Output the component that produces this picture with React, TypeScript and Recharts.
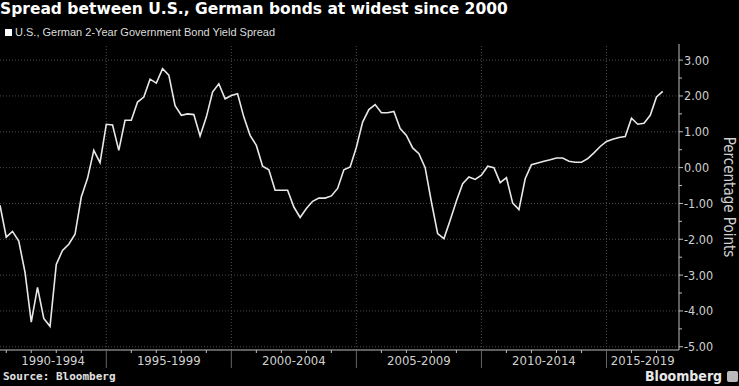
import React from "react";
import { LineChart, Line, XAxis, YAxis, ReferenceLine } from "recharts";

// quarterly observations, first one in Q4 1990
const startYear = 1990.75;
const spreadValues = [
  -1.05, -1.94, -1.78, -2.05, -2.92, -4.31, -3.34, -4.21, -4.43, -2.7,
  -2.31, -2.14, -1.86, -0.82, -0.3, 0.48, 0.14, 1.21, 1.19, 0.48,
  1.32, 1.32, 1.83, 1.97, 2.47, 2.36, 2.76, 2.58, 1.73, 1.46,
  1.5, 1.48, 0.88, 1.41, 2.11, 2.34, 1.92, 2.01, 2.06, 1.41,
  0.9, 0.62, 0.04, -0.06, -0.63, -0.63, -0.63, -1.1, -1.39, -1.14,
  -0.94, -0.85, -0.85, -0.79, -0.58, -0.06, 0.02, 0.57, 1.27, 1.62,
  1.76, 1.53, 1.53, 1.57, 1.09, 0.9, 0.55, 0.39, 0.0, -0.96,
  -1.84, -1.98, -1.47, -0.93, -0.45, -0.26, -0.33, -0.21, 0.04, 0.0,
  -0.42, -0.28, -0.99, -1.17, -0.31, 0.08, 0.13, 0.18, 0.22, 0.27,
  0.27, 0.18, 0.15, 0.15, 0.25, 0.41, 0.59, 0.73, 0.79, 0.84,
  0.87, 1.38, 1.21, 1.24, 1.46, 1.97, 2.13,
];

const groupLabels = ["1990-1994", "1995-1999", "2000-2004", "2005-2009", "2010-2014", "2015-2019"];
const groupStarts = [1990, 1995, 2000, 2005, 2010, 2015];
const yLabels = [3, 2, 1, 0, -1, -2, -3, -4, -5];

const xMin = 1990.75;
const xMax = 2017.9;
const yMin = -5.09;
const yMax = 3.45;

const data = spreadValues.map((v, i) => ({ t: startYear + i * 0.25, spread: v }));

// label sits in the middle of the visible part of each 5-year block
const labelPos = groupStarts.map((s) => (Math.max(s, xMin) + Math.min(s + 5, xMax)) / 2);
const yearTicks: number[] = [];
for (let y = Math.ceil(xMin); y <= Math.floor(xMax); y++) yearTicks.push(y);
const halfTicks: number[] = [];
for (let v = -5; v <= 3; v += 0.5) halfTicks.push(v);

const FONT = "'DejaVu Sans Condensed', 'DejaVu Sans', sans-serif";
const GRID = "#4a4a4a";
const AXIS = "#bdbdbd";

const XTick = (props: any) => {
  const { x, y, payload } = props;
  const idx = labelPos.indexOf(payload.value);
  if (idx >= 0) {
    return (
      <text x={x} y={y + 15} textAnchor="middle" fill="#d0d0d0" fontSize={13} fontFamily={FONT}>
        {groupLabels[idx]}
      </text>
    );
  }
  const major = payload.value % 5 === 0;
  return <line x1={x} x2={x} y1={y} y2={y + (major ? 18 : 3)} stroke={major ? "#666" : AXIS} strokeWidth={1} />;
};

const YTick = (props: any) => {
  const { x, y, payload } = props;
  const v = payload.value;
  const major = Number.isInteger(v);
  return (
    <g>
      <line x1={x} x2={x + (major ? 4 : 3)} y1={y} y2={y} stroke={AXIS} strokeWidth={1} />
      {major && (
        <text x={x + 5} y={y + 4.5} fill="#d0d0d0" fontSize={12.5} fontFamily={FONT}>
          {v.toFixed(2)}
        </text>
      )}
    </g>
  );
};

export default function App() {
  return (
    <div style={{ position: "absolute", left: 0, top: 0, width: 739, height: 386, background: "#000", overflow: "hidden" }}>
      <div style={{ position: "absolute", left: 0, top: 0, color: "#fff", fontFamily: "'DejaVu Sans', sans-serif", fontWeight: 700, fontSize: 15.5, lineHeight: "18px", whiteSpace: "nowrap" }}>
        Spread between U.S., German bonds at widest since 2000
      </div>
      <div style={{ position: "absolute", left: 5, top: 25, color: "#dcdcdc", fontFamily: "'Liberation Sans', sans-serif", fontSize: 11, lineHeight: "14px", whiteSpace: "nowrap", display: "flex", alignItems: "center" }}>
        <span style={{ display: "inline-block", width: 7, height: 7, background: "#fff", marginRight: 3 }} />
        U.S., German 2-Year Government Bond Yield Spread
      </div>

      <div style={{ position: "absolute", left: 0, top: 0 }}>
        <LineChart width={739} height={386} data={data} margin={{ top: 44, right: 0, bottom: 0, left: 0 }}>
          {yLabels.map((v) => (
            <ReferenceLine key={"h" + v} y={v} stroke={GRID} strokeDasharray="1 2" />
          ))}
          {groupStarts.filter((s) => s > xMin).map((s) => (
            <ReferenceLine key={"v" + s} x={s} stroke={GRID} strokeDasharray="1 2" />
          ))}
          <XAxis
            dataKey="t"
            type="number"
            domain={[xMin, xMax]}
            allowDataOverflow
            ticks={[...yearTicks, ...labelPos]}
            interval={0}
            tick={<XTick />}
            tickLine={false}
            tickSize={0}
            tickMargin={0}
            axisLine={{ stroke: AXIS }}
            height={36}
          />
          <YAxis
            orientation="right"
            type="number"
            domain={[yMin, yMax]}
            allowDataOverflow
            ticks={halfTicks}
            interval={0}
            tick={<YTick />}
            tickLine={false}
            tickSize={0}
            tickMargin={0}
            axisLine={{ stroke: AXIS }}
            width={60}
          />
          <Line
            type="linear"
            dataKey="spread"
            stroke="#e8e8e8"
            strokeWidth={1.6}
            dot={false}
            isAnimationActive={false}
          />
        </LineChart>
      </div>

      <div style={{ position: "absolute", left: 721, top: 197, transform: "translateY(-50%)", writingMode: "vertical-rl", color: "#d0d0d0", fontFamily: FONT, fontSize: 15, lineHeight: "16px", whiteSpace: "nowrap" }}>
        Percentage Points
      </div>

      <div style={{ position: "absolute", left: 3, top: 370, color: "#e0e0e0", fontFamily: "'DejaVu Sans Mono', monospace", fontWeight: 700, fontSize: 11, lineHeight: "14px" }}>
        Source: Bloomberg
      </div>
      <div style={{ position: "absolute", left: 645, top: 368, color: "#e8e8e8", fontFamily: "'DejaVu Sans Condensed', sans-serif", fontWeight: 700, fontSize: 14, lineHeight: "17px", display: "flex", alignItems: "center" }}>
        Bloomberg
        <span style={{ display: "inline-block", width: 11, height: 11, background: "#bbb", borderRadius: 2, marginLeft: 5 }} />
      </div>
    </div>
  );
}
